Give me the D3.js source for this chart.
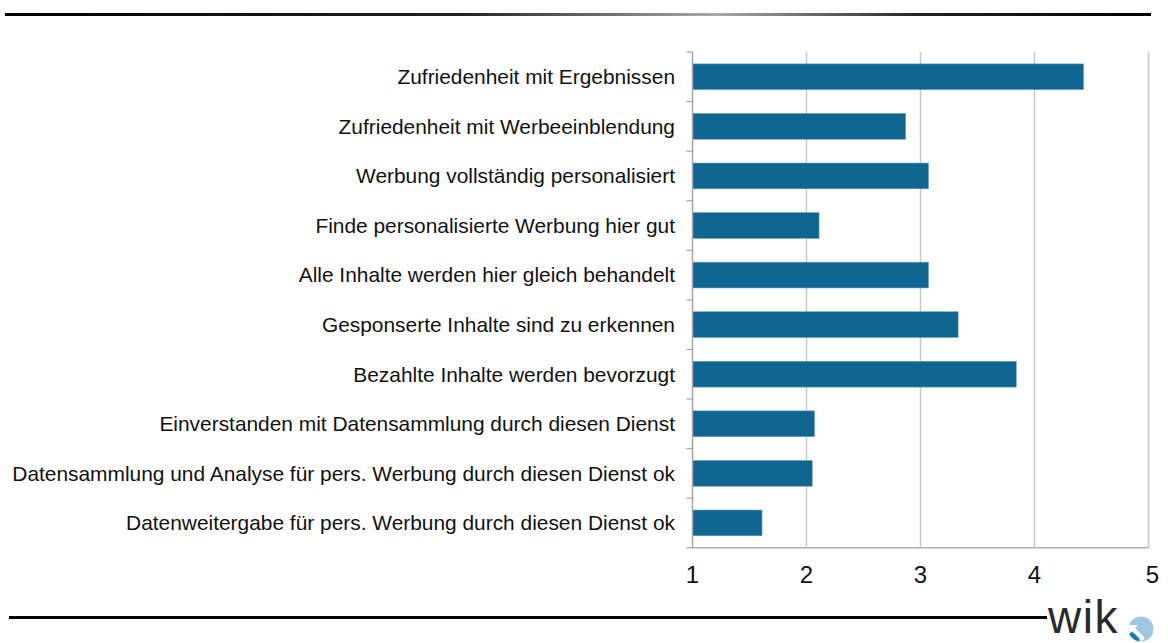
<!DOCTYPE html>
<html lang="de">
<head>
<meta charset="utf-8">
<script src="https://d3js.org/d3.v7.min.js"></script>
<style>
  body { margin: 0; background: #fff; font-family: "Liberation Sans", Arial, sans-serif; }
</style>
</head>
<body>
<div id="vis"></div>
<script>
// categories top to bottom
const categories = [
  "Zufriedenheit mit Ergebnissen",
  "Zufriedenheit mit Werbeeinblendung",
  "Werbung vollständig personalisiert",
  "Finde personalisierte Werbung hier gut",
  "Alle Inhalte werden hier gleich behandelt",
  "Gesponserte Inhalte sind zu erkennen",
  "Bezahlte Inhalte werden bevorzugt",
  "Einverstanden mit Datensammlung durch diesen Dienst",
  "Datensammlung und Analyse für pers. Werbung durch diesen Dienst ok",
  "Datenweitergabe für pers. Werbung durch diesen Dienst ok"
];
const values = [4.43, 2.87, 3.07, 2.11, 3.07, 3.33, 3.84, 2.07, 2.05, 1.61];
const ticks = [1, 2, 3, 4, 5];

const width = 1168, height = 643;
const margin = { top: 52, left: 692.5, right: 19.5, bottom: 95 };

const svg = d3.select('#vis').append('svg')
  .attr('width', width)
  .attr('height', height);

// gradient for the top rule (lighter in the middle)
const grad = svg.append('defs').append('linearGradient').attr('id', 'rule');
grad.append('stop').attr('offset', '0%').attr('stop-color', '#000');
grad.append('stop').attr('offset', '40%').attr('stop-color', '#222');
grad.append('stop').attr('offset', '62%').attr('stop-color', '#aaa');
grad.append('stop').attr('offset', '80%').attr('stop-color', '#222');
grad.append('stop').attr('offset', '100%').attr('stop-color', '#000');

svg.append('rect')
  .attr('x', 5).attr('y', 13).attr('width', 1146).attr('height', 3)
  .attr('fill', 'url(#rule)');

// bottom rule
svg.append('rect')
  .attr('x', 9).attr('y', 616).attr('width', 1038).attr('height', 3)
  .attr('fill', '#000');

const x = d3.scaleLinear()
  .domain([1, 5])
  .range([margin.left, width - margin.right]);

const y = d3.scaleBand()
  .domain(categories)
  .range([margin.top, height - margin.bottom - 0.3])
  .paddingInner(0.48)
  .paddingOuter(0.24);

// gridlines
svg.append('g')
  .selectAll('line')
  .data(ticks.slice(1))
  .join('line')
  .attr('x1', d => x(d)).attr('x2', d => x(d))
  .attr('y1', margin.top).attr('y2', y.range()[1])
  .attr('stroke', '#c9c9c9')
  .attr('stroke-width', 1.5);

// bars
svg.append('g')
  .selectAll('rect')
  .data(values)
  .join('rect')
  .attr('x', x(1))
  .attr('y', (d, i) => y(categories[i]))
  .attr('width', d => x(d) - x(1))
  .attr('height', y.bandwidth())
  .attr('fill', '#0f6791')
  .attr('stroke', '#6a9fbc')
  .attr('stroke-width', 0.6);

// y axis with tick marks at category boundaries
const step = y.step();
const bounds = d3.range(categories.length).map(i => y(categories[i]) - y.paddingOuter() * step);
const yAxis = svg.append('g');
yAxis.append('line')
  .attr('x1', x(1)).attr('x2', x(1))
  .attr('y1', margin.top).attr('y2', y.range()[1])
  .attr('stroke', '#a6a6a6').attr('stroke-width', 1.5);
yAxis.selectAll('.tk')
  .data(bounds)
  .join('line')
  .attr('x1', x(1) - 6).attr('x2', x(1))
  .attr('y1', d => d).attr('y2', d => d)
  .attr('stroke', '#a6a6a6').attr('stroke-width', 1.2);

// category labels
svg.append('g')
  .selectAll('text')
  .data(categories)
  .join('text')
  .attr('x', 675)
  .attr('y', d => y(d) + y.bandwidth() / 2)
  .attr('dy', '0.35em')
  .attr('text-anchor', 'end')
  .attr('font-size', 20.9)
  .attr('fill', '#111')
  .text(d => d);

// x axis
const xAxis = svg.append('g');
xAxis.append('line')
  .attr('x1', x(1) - 6).attr('x2', x(5))
  .attr('y1', y.range()[1]).attr('y2', y.range()[1])
  .attr('stroke', '#b0b0b0').attr('stroke-width', 1.5);
xAxis.selectAll('text')
  .data(ticks)
  .join('text')
  .attr('x', d => x(d) + (d === 5 ? 4 : 0))
  .attr('y', 583)
  .attr('text-anchor', 'middle')
  .attr('font-size', 24)
  .attr('fill', '#111')
  .text(d => d);

// logo
svg.append('text')
  .attr('x', 1048).attr('y', 633)
  .attr('font-size', 46)
  .attr('letter-spacing', 1.5)
  .attr('fill', '#2a2a2a')
  .text('wik');
const logo = svg.append('g').attr('transform', 'translate(1141,629)');
logo.append('circle').attr('r', 12.5).attr('fill', '#9dc8e2');
logo.append('path')
  .attr('d', 'M-12.5,2 A12.5,12.5 0 0 0 -2,12.5 L-2,6 Z')
  .attr('fill', '#1a7db0');
logo.append('path')
  .attr('d', 'M-13,-4 L-3,-4 L-6,-1 L4,9 L1,12 L-9,2 L-12,5 Z')
  .attr('fill', '#fff');
</script>
</body>
</html>
